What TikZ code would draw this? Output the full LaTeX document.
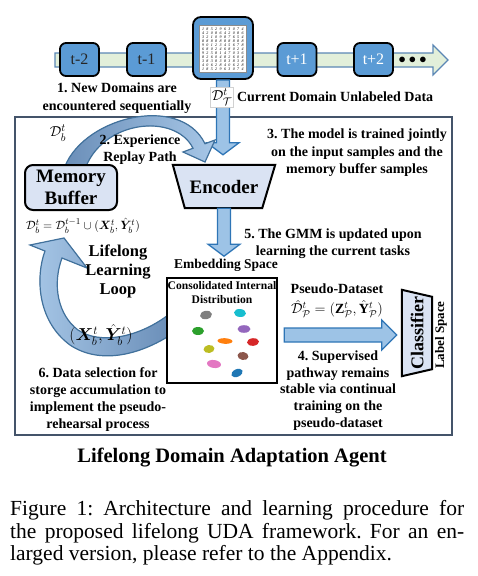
\documentclass[tikz,border=0pt]{standalone}
\usepackage{amsmath,bm}
\usepackage{graphicx}
\usepackage{fontspec}
\setmainfont{Liberation Serif}
\usetikzlibrary{calc,positioning}
\frenchspacing

\definecolor{tlgreen}{HTML}{E2EFDA}
\definecolor{tlline}{HTML}{5B87B5}
\definecolor{boxblue}{HTML}{5B9BD5}
\definecolor{paleblue}{HTML}{DAE3F3}
\definecolor{arrfill}{HTML}{9DC3E6}
\definecolor{arrline}{HTML}{2E75B6}
\definecolor{steel}{HTML}{6A8EB8}
\definecolor{lightsteel}{HTML}{A7C7E7}
\definecolor{steelline}{HTML}{41719C}
\definecolor{framecol}{HTML}{44546A}
\definecolor{tgray}{HTML}{7F7F7F}
\definecolor{tcyan}{HTML}{17BECF}
\definecolor{tgreen}{HTML}{2CA02C}
\definecolor{tpurple}{HTML}{9467BD}
\definecolor{torange}{HTML}{FF7F0E}
\definecolor{tred}{HTML}{D62728}
\definecolor{tolive}{HTML}{BCBD22}
\definecolor{tbrown}{HTML}{8C564B}
\definecolor{tpink}{HTML}{E377C2}
\definecolor{tblue}{HTML}{1F77B4}

\newcommand{\fsz}[2]{\fontsize{#1}{#2}\selectfont}
%% block arrows between two points (start, tip)
\newcommand{\vblockarrow}[2]{\draw[barrow] let \p1=#1, \p2=#2 in
  (\x1-6.5pt,\y1) -- (\x1-6.5pt,\y2+12pt) -- (\x1-16pt,\y2+12pt) -- (\x1,\y2)
  -- (\x1+16pt,\y2+12pt) -- (\x1+6.5pt,\y2+12pt) -- (\x1+6.5pt,\y1) -- cycle;}
\newcommand{\hblockarrow}[3][barrow]{\draw[#1] let \p1=#2, \p2=#3 in
  (\x1,\y1+7pt) -- (\x2-15pt,\y1+7pt) -- (\x2-15pt,\y1+15pt) -- (\x2,\y1)
  -- (\x2-15pt,\y1-15pt) -- (\x2-15pt,\y1-7pt) -- (\x1,\y1-7pt) -- cycle;}

\begin{document}
\begin{tikzpicture}[x=1pt,y=-1pt,
  tbox/.style={draw=black, line width=1.8pt, fill=boxblue, rounded corners=6pt,
               minimum width=39pt, minimum height=33pt, inner sep=0pt, font=\fsz{16}{18}},
  lbl/.style={font=\bfseries\fsz{14}{17.5}, align=center, inner sep=0pt},
  barrow/.style={draw=arrline, line width=1.3pt, fill=arrfill, line join=miter},
  tline/.style={draw=tlline, line width=1.2pt, fill=tlgreen},
  curvearr/.style={draw=steelline, line width=1.2pt, line join=miter},
  softbox/.style={draw=black, line width=2pt, fill=paleblue, line join=miter},
  digit/.style={font=\fsz{4}{4}\itshape, inner sep=0pt, text=black}
]
\useasboundingbox (0,0) rectangle (477,576);

%% Agent frame
\draw[framecol, line width=2pt] (15,117) rectangle (452,435);

%% Domain timeline
\coordinate (tl-s) at (55,60);
\coordinate (tl-e) at (448,60);
\hblockarrow[tline]{(tl-s)}{(tl-e)}

\node[tbox, text=black!85] (tm2) at (79.5,59.5) {t-2};
\node[tbox, text=black!85] (tm1) at (146.5,59.5) {t-1};
\node[tbox, minimum width=60pt, minimum height=62pt, rounded corners=8pt] (cur) at (223,48) {};
\node[tbox, text=white] (tp1) at (297,59.5) {t+1};
\node[tbox, text=white] (tp2) at (373.5,59.5) {t+2};
\node[font=\fsz{14}{14}, inner sep=0pt] (dots) at (412.5,60) {$\bullet\bullet\bullet$};

%% digit samples of the current domain
\node[draw=black!45, line width=0.6pt, fill=white, minimum size=47pt, inner sep=0pt] (grid) at (223,49) {};
\foreach \r in {0,...,10}{
  \foreach \c in {0,...,9}{
    \pgfmathtruncatemacro{\dg}{mod(3*\r*\r+7*\c+\r*\c+1,10)}
    \node[digit] (dg-\r-\c) at ($(grid.north west)+(3.8+\c*4.4, 3.8+\r*4.05)$) {\dg};
  }
}

%% Encoder
\node[minimum width=102pt, minimum height=43pt, inner sep=0pt] (enc) at (224,186.5) {};
\draw[softbox] (enc.north west) -- (enc.north east) -- ($(enc.south east)+(-13,0)$)
  -- ($(enc.south west)+(12,0)$) -- cycle;
\node[font=\bfseries\fsz{19}{19}] (enctxt) at (enc.center) {Encoder};

%% current domain -> encoder
\coordinate (enctip) at ($(enc.north)+(0,-10)$);
\vblockarrow{(cur.south)}{(enctip)}
\node[draw=black!18, fill=white, inner sep=1.5pt, font=\fsz{15}{15}] (dT) at (222,97) {$\mathcal{D}^t_{\mathcal{T}}$};
\node[lbl, right=3pt of dT] (curlbl) {Current Domain Unlabeled Data};

%% Experience replay path
\filldraw[curvearr, left color=steel, right color=lightsteel]
  (63,172) .. controls (78,118) and (180,92) .. (205,143.75)
  -- (215,140) -- (205,162) -- (183,152) -- (193,148.25)
  .. controls (175,112) and (100,120) .. (84,172) -- cycle;

%% Memory buffer
\node[softbox, rounded corners=8pt, minimum width=92pt, minimum height=45pt,
      font=\bfseries\fsz{19}{22}, align=center, inner sep=0pt] (mem) at (71,187.5) {Memory\\Buffer};
\node[font=\fsz{15}{15}] (dbl) at (58,133) {$\mathcal{D}_b^t$};
\node[font=\fsz{12.5}{14}, inner sep=0pt] (memeq) at (83,226) {$\mathcal{D}_b^t=\mathcal{D}_b^{t-1}\cup(\bm{X}_b^t,\hat{\bm{Y}}_b^t)$};

%% Lifelong learning loop
\filldraw[curvearr, left color=lightsteel, right color=steel]
  (45,251) .. controls (36,275) and (36,320) .. (70,345)
  .. controls (100,365) and (140,355) .. (172,334) -- (172,312)
  .. controls (140,338) and (100,345) .. (78,330)
  .. controls (58,315) and (52,285) .. (62,258)
  -- (87,268) -- (64,238) -- (30,245) -- cycle;
\node[font=\bfseries\fsz{16.5}{19}, align=center] (looplbl) at (118,271) {Lifelong\\Learning\\Loop};
\node[font=\fsz{17}{17}, inner sep=0pt] (xylbl) at (101,335) {$(\bm{X}_b^t,\hat{\bm{Y}}_b^t)$};

%% Embedding space
\node[draw=black, line width=2.5pt, fill=white, minimum width=110pt, minimum height=105pt,
      inner sep=0pt] (emb) at (222,330.5) {};
\node[font=\bfseries\fsz{11.6}{14.5}, align=center, anchor=north, inner sep=0pt] (embttl)
  at ($(emb.north)+(0,4)$) {Consolidated Internal\\Distribution};
\foreach \bx/\by/\bc/\br/\rx/\ry in {206/315/tgray/10/6/4.2, 240/313/tcyan/-5/6/4,
    198/331/tgreen/0/6/4, 244/329/tpurple/0/6.5/3.8, 225/341/torange/-3/7.5/2.8,
    253/342/tred/5/6/3.8, 209/349/tolive/8/5.5/4, 243/356/tbrown/-10/5.5/4,
    214/364/tpink/-8/7/4, 237/373/tblue/25/6/3.8}
  \fill[\bc, rotate around={\br:(\bx,\by)}] (\bx,\by) ellipse [x radius=\rx pt, y radius=\ry pt];

\coordinate (embtip) at ($(enc.south)+(0,48)$);
\vblockarrow{(enc.south)}{(embtip)}
\node[lbl, font=\bfseries\fsz{13.5}{16}] (embspace) at (226,265) {Embedding Space};

%% Classifier
\node[minimum width=30pt, minimum height=86pt, inner sep=0pt] (cls) at (417,333) {};
\draw[softbox] (cls.north west) -- ($(cls.north east)+(0,7)$) -- ($(cls.south east)+(0,-7)$)
  -- (cls.south west) -- cycle;
\node[font=\bfseries\fsz{18}{18}, rotate=90, inner sep=0pt] (clstxt) at (cls.center) {Classifier};
\node[font=\bfseries\fsz{13}{13}, rotate=90, inner sep=0pt] (lspace) at (441,335) {Label Space};

%% Pseudo-dataset -> classifier
\coordinate (hstart) at ($(emb.east)+(6,4.5)$);
\coordinate (htip) at ($(cls.west)+(-5,2)$);
\hblockarrow{(hstart)}{(htip)}
\node[lbl] (pslbl) at (337,289) {Pseudo-Dataset};
\node[font=\fsz{14}{14}, inner sep=0pt] (pseq) at (337,309)
  {$\hat{\mathcal{D}}_{\mathcal{P}}^t=(\mathbf{Z}_{\mathcal{P}}^t,\hat{\mathbf{Y}}_{\mathcal{P}}^t)$};

%% Step annotations
\node[lbl] (s1) at (117,98) {1. New Domains are\\encountered sequentially};
\node[lbl] (s2) at (140,149.5) {2. Experience\\Replay Path};
\node[lbl] (s3) at (357,153) {3. The model is trained jointly\\on the input samples and the\\memory buffer samples};
\node[lbl] (s5) at (333,243.5) {5. The GMM is updated upon\\learning the current tasks};
\node[lbl, font=\bfseries\fsz{14}{16.8}] (s4) at (338,390.5)
  {4. Supervised\\pathway remains\\stable via continual\\training on the\\pseudo-dataset};
\node[lbl, font=\bfseries\fsz{14}{17}] (s6) at (98,399.5)
  {6. Data selection for\\storge accumulation to\\implement the pseudo-\\rehearsal process};

%% Title and caption
\node[font=\bfseries\fsz{20.5}{22}, inner sep=0pt] (title) at (232,458) {Lifelong Domain Adaptation Agent};
\node[font=\fsz{21.5}{22.5}, text width=454pt, align=justify, anchor=west, inner sep=0pt] (caption) at (10,533)
  {Figure 1: Architecture and learning procedure for\linebreak the proposed lifelong UDA framework. For an en-\linebreak larged version, please refer to the Appendix.};

\end{tikzpicture}
\end{document}
